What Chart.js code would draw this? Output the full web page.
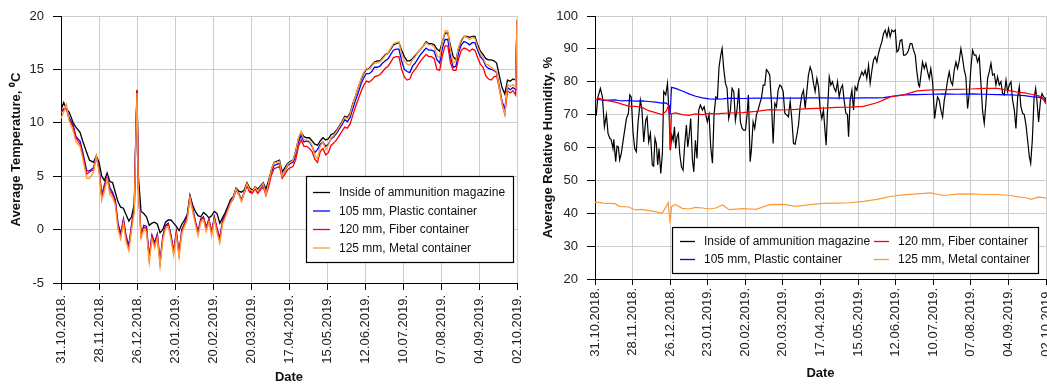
<!DOCTYPE html>
<html>
<head>
<meta charset="utf-8">
<script src="https://cdn.jsdelivr.net/npm/chart.js@4.4.1/dist/chart.umd.min.js"></script>
<style>
  html, body { margin: 0; padding: 0; background: #fff; overflow: hidden; width: 1047px; height: 385px; }
  canvas { position: absolute; top: 0; }
  #tempChart { left: 0; }
  #humChart { left: 525px; }
</style>
</head>
<body>
<canvas id="tempChart" width="525" height="385"></canvas>
<canvas id="humChart" width="522" height="385"></canvas>
<script>
// Tick labels along the date axis (one every 28 days, day 0 = 31.10.2018.)
const dateLabels = ['31.10.2018.', '28.11.2018.', '26.12.2018.', '23.01.2019.', '20.02.2019.', '20.03.2019.',
  '17.04.2019.', '15.05.2019.', '12.06.2019.', '10.07.2019.', '07.08.2019.', '04.09.2019.', '02.10.2019.'];

const seriesNames = ['Inside of ammunition magazine', '105 mm, Plastic container', '120 mm, Fiber container', '125 mm, Metal container'];
const seriesColors = ['#000000', '#0000ff', '#ff0000', '#ff9933'];

// ---- Average temperature, °C (day offset from 31.10.2018.) ----
const tempDays = [
  0, 2, 4, 6, 9, 11, 14, 16, 19, 21,
  24, 26, 28, 30, 32, 34, 36, 38, 40, 42,
  44, 46, 48, 50, 52, 54, 55, 56, 57, 59,
  61, 63, 65, 67, 69, 71, 73, 75, 77, 79,
  81, 83, 85, 87, 89, 91, 93, 95, 97, 99,
  101, 103, 105, 107, 109, 111, 113, 115, 117, 119,
  121, 123, 125, 127, 129, 131, 133, 135, 137, 139,
  141, 143, 145, 147, 149, 151, 153, 155, 157, 159,
  161, 163, 165, 167, 169, 171, 173, 175, 177, 179,
  181, 183, 185, 187, 189, 191, 193, 195, 197, 199,
  201, 203, 205, 207, 209, 211, 213, 215, 217, 219,
  221, 223, 225, 227, 229, 231, 233, 235, 237, 239,
  241, 243, 245, 247, 249, 251, 253, 255, 257, 259,
  261, 263, 265, 267, 269, 271, 273, 275, 277, 279,
  281, 283, 285, 287, 289, 291, 293, 295, 297, 299,
  301, 303, 305, 307, 309, 311, 313, 315, 317, 319,
  321, 323, 325, 327, 329, 331, 333, 335, 336
];
const tempInside = [
  11.2, 11.9, 11.3, 11.0, 10.0, 9.6, 9.1, 8.3, 7.2, 6.5,
  6.3, 6.9, 6.3, 5.0, 4.6, 5.3, 4.5, 4.4, 3.5, 2.6,
  2.1, 2.0, 1.4, 0.8, 1.2, 2.4, 8.0, 13.0, 5.0, 1.7,
  1.5, 1.2, 0.4, 0.6, 0.7, 0.5, -0.3, 0.0, 0.7, 0.9,
  0.9, 0.6, 0.3, -0.1, 0.5, 0.9, 1.4, 3.2, 2.3, 1.7,
  1.3, 1.2, 1.6, 1.4, 1.1, 1.3, 1.7, 1.5, 0.6, 1.1,
  1.6, 2.2, 2.8, 3.1, 3.9, 3.6, 3.5, 3.7, 4.4, 3.9,
  3.7, 4.0, 3.8, 4.1, 4.4, 3.8, 4.6, 5.6, 6.3, 6.4,
  6.5, 5.4, 5.8, 6.2, 6.4, 6.5, 7.4, 8.5, 9.1, 8.7,
  8.6, 8.6, 8.3, 8.0, 7.9, 8.3, 8.6, 8.4, 8.5, 8.9,
  9.0, 9.3, 9.7, 10.1, 10.6, 10.5, 10.9, 11.8, 12.5, 13.3,
  14.0, 14.6, 15.0, 15.1, 15.4, 15.7, 15.8, 15.8, 16.1, 16.4,
  16.5, 16.9, 17.3, 17.4, 17.5, 16.8, 16.2, 15.8, 15.8, 16.0,
  16.3, 16.6, 16.9, 17.2, 17.6, 17.4, 17.4, 17.3, 16.9, 16.7,
  17.6, 18.4, 18.4, 17.2, 16.2, 15.9, 17.0, 17.7, 18.1, 18.1,
  18.0, 18.1, 18.1, 17.3, 16.7, 16.4, 16.0, 15.9, 15.9, 15.8,
  15.6, 14.4, 13.3, 12.7, 14.0, 13.9, 14.1, 14.0, 19.6
];
const tempPlastic = [
  11.0, 11.3, 11.4, 10.5, 9.8, 8.7, 8.3, 7.3, 5.5, 5.5,
  5.8, 6.8, 5.8, 3.2, 4.2, 5.0, 3.9, 3.5, 2.8, 0.6,
  -0.4, 1.0, -0.6, -1.5, 0.5, 2.0, 8.0, 13.0, 4.0, -0.5,
  0.4, 0.3, -2.6, -0.5, -1.2, -0.4, -3.0, -0.6, 0.4, 0.6,
  -0.5, -2.0, -0.2, -2.2, 0.0, 0.6, 1.2, 3.1, 2.0, 0.8,
  -0.2, 1.0, 1.2, 0.2, 1.0, -0.2, 1.2, 0.1, -0.8, 0.8,
  1.4, 2.0, 2.6, 3.0, 3.8, 3.4, 2.8, 3.5, 4.2, 3.6,
  3.5, 4.0, 3.6, 3.9, 4.2, 3.4, 4.3, 5.4, 6.0, 6.1,
  6.2, 5.0, 5.5, 6.0, 6.2, 6.3, 7.0, 8.2, 8.8, 8.2,
  8.3, 8.2, 7.8, 7.2, 7.5, 8.0, 8.2, 7.8, 8.0, 8.5,
  8.7, 9.0, 9.4, 9.8, 10.3, 10.1, 10.5, 11.3, 12.1, 12.8,
  13.6, 14.2, 14.6, 14.6, 14.8, 15.2, 15.2, 15.3, 15.6, 15.8,
  16.0, 16.4, 16.8, 16.9, 16.9, 15.8, 15.0, 14.8, 14.7, 15.3,
  15.6, 16.0, 16.4, 16.7, 17.0, 16.8, 16.8, 16.7, 15.9, 15.6,
  17.0, 17.8, 17.8, 16.2, 15.2, 15.3, 16.6, 17.3, 17.6, 17.5,
  17.3, 17.5, 17.5, 16.8, 16.2, 15.9, 15.3, 15.1, 15.0, 14.9,
  14.7, 13.4, 12.0, 11.3, 13.3, 13.1, 13.3, 13.1, 19.5
];
const tempFiber = [
  11.0, 11.2, 11.3, 10.3, 9.6, 8.6, 8.0, 7.0, 5.2, 5.4,
  5.6, 6.8, 5.7, 3.1, 4.0, 4.9, 3.6, 3.3, 2.6, 0.3,
  -0.6, 0.9, -0.8, -1.7, 0.3, 1.9, 8.0, 13.1, 4.0, -0.6,
  0.2, 0.1, -2.7, -0.6, -1.4, -0.5, -3.1, -0.8, 0.3, 0.5,
  -0.6, -2.1, -0.3, -2.3, -0.1, 0.5, 1.1, 3.1, 1.9, 0.7,
  -0.3, 0.9, 1.1, 0.1, 0.9, -0.3, 1.1, 0.0, -1.0, 0.7,
  1.3, 1.9, 2.5, 2.9, 3.7, 3.3, 2.7, 3.4, 4.1, 3.5,
  3.4, 3.8, 3.4, 3.7, 4.0, 3.2, 4.0, 5.1, 5.7, 5.8,
  5.9, 4.8, 5.2, 5.6, 5.8, 5.9, 6.6, 7.8, 8.4, 7.8,
  7.8, 7.6, 7.3, 6.6, 6.3, 7.3, 7.6, 7.0, 7.2, 7.9,
  8.1, 8.4, 8.8, 9.2, 9.6, 9.5, 9.9, 10.7, 11.5, 12.2,
  12.9, 13.5, 13.9, 13.8, 14.0, 14.3, 14.4, 14.5, 14.8, 15.1,
  15.3, 15.7, 16.1, 16.2, 16.2, 15.0, 14.3, 14.0, 14.1, 14.7,
  15.0, 15.4, 15.8, 16.1, 16.4, 16.2, 16.2, 16.0, 15.0, 14.9,
  16.3, 17.2, 17.2, 15.6, 14.9, 14.9, 16.0, 16.8, 17.0, 16.9,
  16.7, 16.9, 16.8, 16.1, 15.5, 15.2, 14.4, 14.1, 14.0, 14.3,
  14.4, 13.2, 11.8, 10.8, 13.0, 12.8, 13.0, 12.6, 19.4
];
const tempMetal = [
  10.4, 11.0, 11.7, 10.2, 9.2, 8.2, 7.8, 6.7, 4.8, 4.8,
  5.4, 6.9, 5.4, 2.7, 3.6, 4.8, 3.3, 3.0, 2.3, 0.0,
  -0.9, 0.6, -1.2, -2.0, 0.0, 1.6, 7.5, 12.8, 3.5, -0.8,
  0.0, -0.2, -3.1, -0.9, -1.7, -0.8, -3.4, -1.0, 0.1, 0.3,
  -0.9, -2.4, -0.6, -2.6, -0.4, 0.3, 0.9, 3.0, 1.7, 0.5,
  -0.6, 0.7, 0.9, -0.2, 0.7, -0.6, 0.9, -0.3, -1.3, 0.5,
  1.1, 1.8, 2.5, 3.0, 3.8, 3.3, 2.6, 3.5, 4.3, 3.7,
  3.6, 4.0, 3.6, 4.0, 4.3, 3.3, 4.4, 5.6, 6.3, 6.3,
  6.4, 5.0, 5.5, 6.1, 6.3, 6.5, 7.3, 8.6, 9.2, 8.4,
  8.4, 8.3, 7.9, 7.0, 6.6, 7.8, 8.2, 7.5, 7.9, 8.6,
  8.8, 9.2, 9.6, 10.0, 10.5, 10.4, 10.8, 11.7, 12.5, 13.3,
  14.1, 14.7, 15.1, 15.0, 15.3, 15.6, 15.6, 15.7, 16.0, 16.3,
  16.5, 17.0, 17.4, 17.5, 17.6, 16.4, 15.8, 15.5, 15.4, 15.9,
  16.2, 16.6, 16.9, 17.2, 17.5, 17.3, 17.3, 17.1, 16.3, 16.1,
  17.6, 18.6, 18.6, 16.8, 15.6, 15.8, 17.1, 17.8, 18.1, 18.0,
  17.8, 18.0, 17.9, 17.1, 16.5, 16.1, 15.5, 15.4, 15.2, 15.0,
  14.8, 13.2, 11.8, 10.8, 13.6, 13.4, 13.6, 13.3, 19.7
];

// ---- Average relative humidity, % ----
const humDays = [
  0, 1, 2, 4, 5.5, 7, 8.5, 9.7, 11, 12,
  13.4, 14, 15.4, 16.4, 17.4, 18.4, 19.6, 21.4, 23.4, 24.9,
  25.9, 27, 28.3, 29.6, 30.8, 32, 33.8, 35, 36.3, 37.8,
  38.8, 40, 41.3, 42.7, 43.7, 44.7, 45.7, 46.7, 47.7, 49,
  50.2, 51.2, 52.7, 54, 55.2, 56.2, 57.2, 58.2, 59.2, 60.1,
  61.1, 62.1, 63.1, 64.4, 65.6, 66.8, 68.1, 69.1, 70.1, 71.3,
  72.6, 73.6, 74.8, 76, 77.3, 78.5, 80, 81.3, 82.5, 83.7,
  85, 86.2, 87.5, 88.7, 90, 91.2, 92.4, 93.7, 94.7, 95.9,
  97.2, 98.4, 99.6, 100.9, 102.1, 103.4, 104.6, 105.9, 107.1, 108.3,
  109.6, 110.8, 112.1, 113.3, 114.3, 115.6, 116.5, 117.8, 119, 120.3,
  121.5, 122.8, 124, 125.3, 126.5, 127.7, 129, 130.2, 131.5, 132.7,
  134, 135.2, 136.4, 137.7, 138.9, 140.2, 141.4, 142.6, 144.1, 145.4,
  146.6, 147.9, 149.1, 150.4, 151.6, 152.8, 154.1, 155.3, 156.6, 157.8,
  159, 160.3, 161.5, 162.8, 164, 165.3, 166.5, 167.8, 169, 170.2,
  171.5, 172.2, 173.2, 174.5, 175.7, 176.9, 178.2, 179.4, 180.7, 181.9,
  183.2, 184.4, 185.6, 186.9, 188.1, 188.9, 190.1, 191.4, 192.6, 193.8,
  195.1, 196.3, 197.6, 198.8, 200, 201.3, 202.5, 203.8, 205, 206.3,
  207.5, 208.8, 210, 211.2, 212.5, 213.7, 215, 216.2, 217.5, 218.7,
  219.9, 221.2, 222.4, 223.7, 224.9, 226.1, 227.4, 228.6, 229.9, 231.1,
  232.4, 233.6, 234.8, 236.1, 237.3, 238.6, 239.8, 241.1, 241.8, 242.8,
  244, 245.3, 246.5, 247.8, 249, 250.2, 251.5, 252.2, 253, 254,
  255.2, 256.5, 257.7, 259, 260.2, 261.4, 262.7, 263.9, 265.2, 266.4,
  267.6, 268.9, 270.1, 271.4, 272.6, 273.9, 275.1, 276.3, 277.6, 278.8,
  280.1, 281.3, 282.6, 283.8, 285, 286.3, 287.5, 288.8, 290, 291.2,
  292.5, 293.7, 295, 296.2, 297.5, 298.7, 299.9, 301.2, 302.4, 303.7,
  304.9, 306.2, 307.4, 308.6, 309.9, 311.1, 312.4, 313.6, 314.9, 316.1,
  317.3, 318.6, 319.8, 321.1, 322.3, 323.6, 324.6, 325.8, 327.1, 328.3,
  329.3, 330.5, 331.8, 333, 334.2, 335.5, 336
];
const humInside = [
  70.4, 70, 75, 78, 75.5, 66.3, 70, 64.3, 62.8, 62.5,
  59.7, 62.5, 55.7, 60.4, 60.2, 56.2, 58.2, 63.3, 68.8, 70.4,
  76, 75.4, 64.8, 59.7, 58.7, 67.3, 74.4, 71.4, 61.7, 68.3,
  69.3, 61.7, 64.3, 54.7, 54.3, 62.8, 61.2, 54.7, 59.7, 52.1,
  58.2, 77, 76, 79.5, 70, 59.2, 63.8, 62.2, 66.3, 59.7,
  63.3, 64.3, 58.2, 54.1, 53.1, 60.7, 66.8, 60.2, 63.3, 68.8,
  56.2, 52.6, 62.2, 56.7, 71.4, 72.9, 71.4, 72.4, 70, 67.8,
  70, 60.2, 55.2, 70, 75.4, 75, 84.5, 88.1, 90.1, 84,
  79.5, 78, 68.8, 71.4, 78, 77, 68.3, 71.9, 78, 67.8,
  65.8, 65.3, 65.3, 70, 76, 55.7, 59.2, 67.8, 65.8, 70,
  71.4, 73.4, 75, 79, 79, 83.7, 83, 82, 73.4, 61.2,
  73.4, 72.4, 77.4, 79, 78.5, 77, 70.4, 70, 69.3, 74,
  68.8, 61.2, 61, 63.8, 66.8, 72.4, 76, 77.4, 71.9, 77,
  82, 84.5, 83, 79.5, 77, 81, 78.5, 71.4, 68.8, 71.4,
  64.3, 60.7, 70.9, 81.5, 79, 80, 78, 77, 80, 75.4,
  78, 79, 74.4, 70.4, 70, 63.3, 74.4, 77.4, 71.4, 78.5,
  77.4, 80, 81.5, 83, 82, 83.5, 81, 85, 79.5, 83.5,
  86.6, 87.6, 86, 88.6, 90.6, 92.1, 94.7, 95.7, 93.7, 96.2,
  93.7, 95.7, 95.2, 95.7, 89.1, 89.6, 92.6, 92.8, 88.1, 88.1,
  88.6, 89.6, 91.6, 91.6, 89.6, 88.1, 83, 79, 78.5, 82,
  86, 84, 85.6, 83, 81, 84, 80, 75, 68.8, 71.9,
  75.4, 74.4, 71.4, 69.3, 74.4, 77, 80.5, 83, 80, 79,
  83.5, 86, 84, 86.6, 90.1, 87, 83.5, 81.5, 71.9, 76.4,
  84.5, 89.6, 88.1, 88.1, 86, 87.6, 79.5, 70.9, 67.3, 73.4,
  81, 83, 85.6, 82, 82.4, 79, 81.5, 79, 80, 76.4,
  76, 80.5, 77, 79, 80, 74.4, 71.4, 65.8, 75.4, 78.5,
  72.4, 70.4, 70, 66.8, 62.2, 57.2, 55.2, 62.2, 75, 78,
  74, 67.8, 74, 76.4, 75.4, 75, 73.4
];

// The three container series change slowly, so they are read at wider steps
const humContainerDays = [
  0, 3, 6, 10, 15, 18, 20, 25, 30, 35,
  40, 45, 50, 53, 54.5, 55.5, 56, 57, 60, 65,
  70, 75, 80, 85, 90, 95, 100, 110, 120, 130,
  140, 150, 160, 170, 180, 190, 200, 210, 215, 220,
  225, 230, 240, 250, 260, 270, 280, 290, 300, 310,
  315, 320, 325, 330, 333, 336
];
const humPlastic = [
  74.5, 74.6, 74.3, 74.4, 74.5, 74.3, 74.2, 74.3, 74.1, 74.2,
  74.0, 73.8, 73.5, 73.6, 73.0, 72.6, 70.0, 78.3, 78.0, 77.2,
  76.3, 75.6, 75.1, 74.8, 74.7, 74.8, 75.0, 74.9, 75.0, 75.0,
  75.0, 75.0, 75.1, 75.1, 75.0, 75.0, 75.1, 75.1, 75.2, 75.5,
  75.8, 76.0, 76.1, 76.2, 76.3, 76.2, 76.3, 76.2, 76.1, 76.0,
  75.9, 75.8, 75.5, 75.3, 75.0, 74.3
];
const humFiber = [
  74.5, 75.0, 74.6, 74.2, 73.8, 73.5, 73.2, 72.6, 72.5, 72.2,
  71.2, 70.6, 70.0, 71.0, 72.5, 70.0, 59.3, 70.3, 70.5, 70.0,
  69.8, 70.2, 70.0, 70.4, 70.2, 70.4, 70.5, 70.6, 71.0, 71.5,
  71.4, 71.6, 71.8, 72.0, 72.2, 72.3, 72.5, 73.6, 74.5, 75.4,
  75.7, 76.0, 77.2, 77.5, 77.6, 77.7, 77.8, 78.0, 78.0, 77.2,
  76.8, 76.6, 76.2, 75.8, 75.4, 73.2
];
const humMetal = [
  43.3, 43.3, 43.1, 43.0, 42.9, 42.1, 42.0, 41.9, 41.0, 41.2,
  40.8, 40.5, 40.0, 42.0, 43.3, 38.9, 37.0, 42.0, 42.7, 41.5,
  41.3, 41.8, 41.6, 41.3, 41.6, 42.5, 41.1, 41.4, 41.2, 42.6,
  42.7, 42.1, 42.6, 43.0, 43.1, 43.2, 43.6, 44.2, 44.7, 45.1,
  45.4, 45.6, 45.9, 46.2, 45.4, 45.8, 45.9, 45.7, 45.7, 45.4,
  45.0, 44.8, 44.2, 44.9, 44.8, 44.6
];

const FONT = '"Liberation Sans", Arial, Helvetica, sans-serif';

function points(days, values) {
  return days.map((d, i) => ({ x: d, y: values[i] }));
}

function lineSet(idx, days, values, width) {
  return {
    label: seriesNames[idx],
    data: points(days, values),
    borderColor: seriesColors[idx],
    backgroundColor: seriesColors[idx],
    borderWidth: width,
    pointRadius: 0,
    tension: 0,
    fill: false,
    // later series are painted over earlier ones
    order: 3 - idx
  };
}

// Framed legend drawn inside the plot area
const boxLegend = {
  id: 'boxLegend',
  afterDraw(chart, args, opts) {
    const ctx = chart.ctx;
    ctx.save();
    ctx.fillStyle = '#ffffff';
    ctx.fillRect(opts.x, opts.y, opts.w, opts.h);
    ctx.strokeStyle = '#000000';
    ctx.lineWidth = 1.2;
    ctx.strokeRect(opts.x + 0.5, opts.y + 0.5, opts.w, opts.h);
    ctx.font = '12px ' + FONT;
    ctx.textBaseline = 'middle';
    ctx.textAlign = 'left';
    opts.items.forEach(it => {
      const ds = chart.data.datasets.find(d => d.label === seriesNames[it.series]);
      ctx.strokeStyle = ds.borderColor;
      ctx.lineWidth = 1.3;
      ctx.beginPath();
      ctx.moveTo(it.x, it.y + 0.5);
      ctx.lineTo(it.x + opts.lineLen, it.y + 0.5);
      ctx.stroke();
      ctx.fillStyle = '#111111';
      ctx.fillText(ds.label, it.x + opts.lineLen + opts.gap, it.y + 1);
    });
    ctx.restore();
  }
};

function dateAxis(height, tickLen, pad, titlePad) {
  return {
    type: 'linear',
    min: 0,
    max: 336,
    ticks: {
      stepSize: 28,
      autoSkip: false,
      maxRotation: 90,
      minRotation: 90,
      padding: pad,
      color: '#222222',
      font: { family: FONT, size: 13 },
      callback: (v, i) => dateLabels[i]
    },
    grid: { color: '#cccccc', lineWidth: 1, tickLength: tickLen, tickColor: '#000000' },
    border: { color: '#000000', width: 1 },
    title: {
      display: true, text: 'Date', color: '#111111',
      font: { family: FONT, size: 13, weight: 'bold' },
      padding: { top: 0, bottom: titlePad }
    },
    afterFit(s) { s.height = height; s.paddingLeft = 0; s.paddingRight = 0; }
  };
}

function valueAxis(min, max, step, width, title, titlePad) {
  return {
    min: min,
    max: max,
    ticks: {
      stepSize: step,
      padding: 9,
      color: '#222222',
      font: { family: FONT, size: 13 }
    },
    grid: { color: '#cccccc', lineWidth: 1, tickLength: 8, tickColor: '#000000' },
    border: { color: '#000000', width: 1 },
    title: {
      display: true, text: title, color: '#111111',
      font: { family: FONT, size: 13, weight: 'bold' },
      padding: { top: titlePad, bottom: 0 }
    },
    afterFit(s) { s.width = width; s.paddingTop = 0; s.paddingBottom = 0; }
  };
}

new Chart(document.getElementById('tempChart'), {
  type: 'line',
  data: {
    datasets: [
      lineSet(0, tempDays, tempInside, 1.3),
      lineSet(1, tempDays, tempPlastic, 1.3),
      lineSet(2, tempDays, tempFiber, 1.3),
      lineSet(3, tempDays, tempMetal, 1.3)
    ]
  },
  options: {
    responsive: false,
    animation: false,
    devicePixelRatio: 1,
    layout: { padding: { top: 16, right: 8, left: 0, bottom: 0 } },
    plugins: {
      legend: { display: false },
      tooltip: { enabled: false },
      boxLegend: {
        x: 306, y: 176, w: 207, h: 86, lineLen: 17, gap: 9,
        items: [
          { series: 0, x: 313, y: 192 },
          { series: 1, x: 313, y: 210.5 },
          { series: 2, x: 313, y: 229 },
          { series: 3, x: 313, y: 247.5 }
        ]
      }
    },
    scales: {
      x: dateAxis(102, 7, 5, 0),
      y: valueAxis(-5, 20, 5, 61, 'Average Temperature, \u2070C', 9)
    }
  },
  plugins: [boxLegend]
});

new Chart(document.getElementById('humChart'), {
  type: 'line',
  data: {
    datasets: [
      lineSet(0, humDays, humInside, 1.2),
      lineSet(1, humContainerDays, humPlastic, 1.2),
      lineSet(2, humContainerDays, humFiber, 1.2),
      lineSet(3, humContainerDays, humMetal, 1.2)
    ]
  },
  options: {
    responsive: false,
    animation: false,
    devicePixelRatio: 1,
    layout: { padding: { top: 16, right: 1, left: 0, bottom: 0 } },
    plugins: {
      legend: { display: false },
      tooltip: { enabled: false },
      boxLegend: {
        x: 147, y: 227, w: 366, h: 46, lineLen: 15, gap: 9,
        items: [
          { series: 0, x: 155, y: 241 },
          { series: 1, x: 155, y: 259 },
          { series: 2, x: 349, y: 241 },
          { series: 3, x: 349, y: 259 }
        ]
      }
    },
    scales: {
      x: dateAxis(106, 6, 3, 4),
      y: valueAxis(20, 100, 10, 70, 'Average Relative Humidity, %', 16)
    }
  },
  plugins: [boxLegend]
});
</script>
</body>
</html>
